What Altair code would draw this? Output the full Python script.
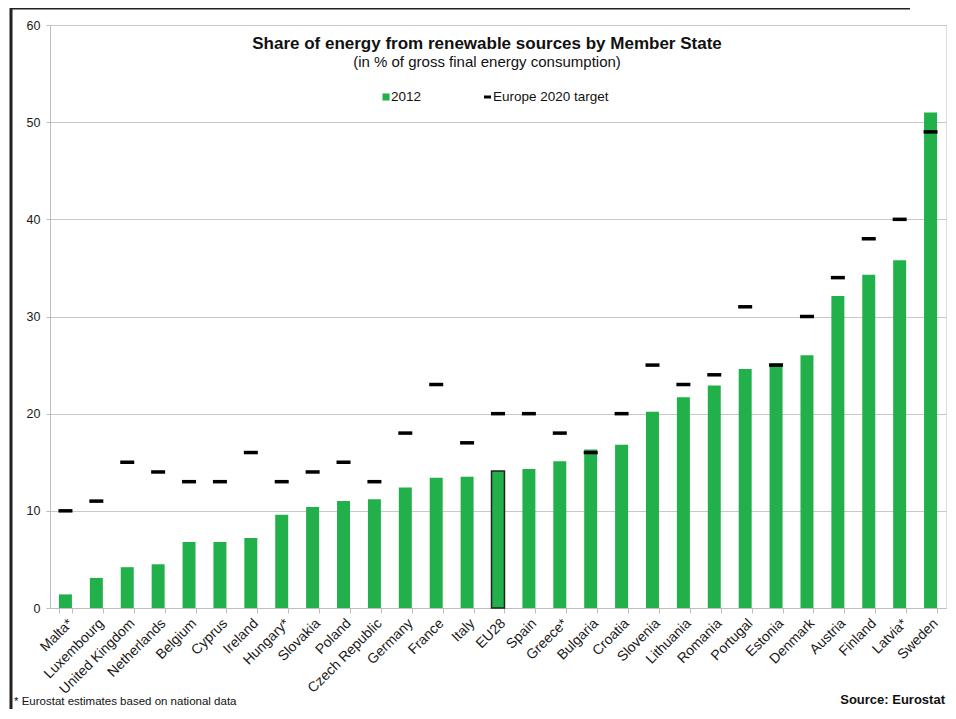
import altair as alt
import pandas as pd

countries = ["Malta*", "Luxembourg", "United Kingdom", "Netherlands", "Belgium", "Cyprus",
             "Ireland", "Hungary*", "Slovakia", "Poland", "Czech Republic", "Germany", "France",
             "Italy", "EU28", "Spain", "Greece*", "Bulgaria", "Croatia", "Slovenia", "Lithuania",
             "Romania", "Portugal", "Estonia", "Denmark", "Austria", "Finland", "Latvia*", "Sweden"]
share_2012 = [1.4, 3.1, 4.2, 4.5, 6.8, 6.8, 7.2, 9.6, 10.4, 11.0, 11.2, 12.4, 13.4, 13.5, 14.1,
              14.3, 15.1, 16.3, 16.8, 20.2, 21.7, 22.9, 24.6, 25.2, 26.0, 32.1, 34.3, 35.8, 51.0]
target_2020 = [10, 11, 15, 14, 13, 13, 16, 13, 14, 15, 13, 18, 23, 17, 20, 20, 18, 16, 20, 25,
               23, 24, 31, 25, 30, 34, 38, 40, 49]
y_ticks = [0, 10, 20, 30, 40, 50, 60]

title_text = "Share of energy from renewable sources by Member State"
subtitle_text = "(in % of gross final energy consumption)"
legend_bar = "2012"
legend_tick = "Europe 2020 target"
footnote = "* Eurostat estimates based on national data"
source = "Source: Eurostat"

df = pd.DataFrame({"country": countries, "value": share_2012, "target": target_2020})

FONT = "Liberation Sans"
GREEN = "#22b04b"
W, H = 896, 583

x_enc = alt.X("country:N", sort=None, title=None,
              scale=alt.Scale(paddingInner=0.58, paddingOuter=0.29),
              axis=alt.Axis(labelAngle=-45, labelFontSize=14, labelColor="#1a1a1a",
                            labelFont=FONT, labelPadding=3, domainColor="#bdbdbd",
                            tickColor="#bdbdbd", tickSize=5, tickBand="extent", grid=False))

bars = alt.Chart(df).mark_bar(color=GREEN, stroke="#222222").encode(
    x=x_enc,
    y=alt.Y("value:Q", title=None,
            scale=alt.Scale(domain=[0, 60], nice=False),
            axis=alt.Axis(values=y_ticks, labelFontSize=12.5, labelColor="#1a1a1a", labelFont=FONT,
                          labelPadding=6, tickSize=4, tickColor="#bdbdbd",
                          domainColor="#bdbdbd", gridColor="#c8c8c8", gridWidth=1.2)),
    strokeWidth=alt.condition(alt.datum.country == "EU28", alt.value(1.5), alt.value(0)),
)

ticks = alt.Chart(df).mark_tick(color="#000000", thickness=3.5, size=14, opacity=1).encode(
    x=alt.X("country:N", sort=None),
    y=alt.Y("target:Q"),
)

one = alt.Data(values=[{}])

def txt(text, x, y, size, bold=False, align="center"):
    return alt.Chart(one).mark_text(
        font=FONT, fontSize=size, fontWeight="bold" if bold else "normal",
        align=align, baseline="middle", color="#111111"
    ).encode(x=alt.value(x), y=alt.value(y), text=alt.value(text))

title = txt(title_text, 437, 19, 17, bold=True)
subtitle = txt(subtitle_text, 437, 37, 15)

leg_sq = alt.Chart(one).mark_square(color=GREEN, size=50, opacity=1).encode(
    x=alt.value(336), y=alt.value(72))
leg_t1 = txt(legend_bar, 341, 72, 13.5, align="left")
leg_dash = alt.Chart(one).mark_rule(color="#000000", strokeWidth=3).encode(
    x=alt.value(434), x2=alt.value(441), y=alt.value(72))
leg_t2 = txt(legend_tick, 443, 72, 13.5, align="left")

foot = txt(footnote, -36, 677, 11.5, align="left")
src = txt(source, 895, 675, 13, bold=True, align="right")

def hline(x, x2, y):
    return alt.Chart(one).mark_rule(color="#222222", strokeWidth=3).encode(
        x=alt.value(x), x2=alt.value(x2), y=alt.value(y))

def vline(x, y, y2):
    return alt.Chart(one).mark_rule(color="#222222", strokeWidth=3).encode(
        x=alt.value(x), y=alt.value(y), y2=alt.value(y2))

frame_left = vline(-39, -17, 686)
frame_top = hline(-39, 860, -17)
frame_bottom = hline(-39, 860, 686)

chart = alt.layer(bars, ticks, title, subtitle, leg_sq, leg_t1, leg_dash, leg_t2,
                  foot, src, frame_left, frame_top, frame_bottom).properties(
    width=W, height=H,
    autosize=alt.AutoSizeParams(type="none"),
    padding={"left": 42, "top": 17, "right": 2, "bottom": 101},
).configure_view(strokeWidth=0).configure(background="white")

chart.save("out.html", embed_options={"renderer": "svg", "actions": False})
